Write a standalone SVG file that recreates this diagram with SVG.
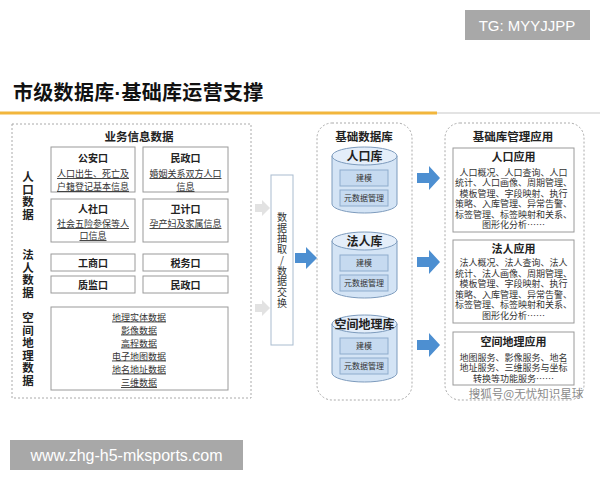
<svg xmlns="http://www.w3.org/2000/svg" width="600" height="480" viewBox="0 0 600 480">
<defs>
<style>
text{font-family:"Noto Sans CJK SC","Liberation Sans",sans-serif;fill:#222;text-anchor:middle}
.t{font-size:10px;font-weight:bold}
.b{font-size:9px;fill:#333;text-decoration:underline}
.v{font-size:11.5px;font-weight:bold;writing-mode:tb;text-anchor:start;letter-spacing:1px}
.box{fill:#fff;stroke:#9a9a9a;stroke-width:1}
.dash{fill:none;stroke:#aaa;stroke-width:1;stroke-dasharray:2,2}
.cyl{fill:#d4e4f5;stroke:#7d9bbd;stroke-width:1}
.cyltop{fill:#e4eefa;stroke:#7d9bbd;stroke-width:1}
.in{fill:#c6daf0;stroke:#8eaccd;stroke-width:1}
.it{font-size:8px;fill:#333}
.ct{font-size:12px;font-weight:bold}
.ab{font-size:9px;fill:#333}
.blue{fill:#4d8fd1}
.grey{fill:#e2e2e2}
</style>
</defs>
<rect width="600" height="480" fill="#fff"/>
<!-- header -->
<rect x="465" y="10" width="125" height="30" fill="#a8a8a8"/>
<text x="527" y="31" style="font-family:'Liberation Sans',sans-serif;font-size:15px;fill:#fff">TG: MYYJJPP</text>
<text x="13" y="100" style="font-size:20px;font-weight:bold;text-anchor:start;fill:#111;letter-spacing:0.3px">市级数据库<tspan style="font-family:'Liberation Sans',sans-serif">·</tspan>基础库运营支撑</text>
<rect x="0" y="111.5" width="437" height="3" fill="#f2b63c"/>
<rect x="437" y="112" width="163" height="2" fill="#e3e3e3"/>

<!-- left panel -->
<g id="business">
<rect class="dash" x="12" y="124" width="239" height="274"/>
<text x="139" y="141" style="font-size:11.5px;font-weight:bold">业务信息数据</text>
<text class="v" x="28" y="171">人口数据</text>
<text class="v" x="28" y="249">法人数据</text>
<text class="v" x="28" y="312">空间地理数据</text>
</g>
<g id="gongan">
<rect class="box" x="51" y="147" width="84" height="45"/>
<text class="t" x="93" y="162">公安口</text>
<text class="b"><tspan x="93" y="177">人口出生、死亡及</tspan><tspan x="93" y="190">户籍登记基本信息</tspan></text>
</g>
<g id="minzheng1">
<rect class="box" x="143" y="147" width="85" height="45"/>
<text class="t" x="185.5" y="162">民政口</text>
<text class="b"><tspan x="185.5" y="177">婚姻关系双方人口</tspan><tspan x="185.5" y="190">信息</tspan></text>
</g>
<g id="renshe">
<rect class="box" x="51" y="199" width="84" height="43"/>
<text class="t" x="93" y="213">人社口</text>
<text class="b"><tspan x="93" y="227">社会五险参保等人</tspan><tspan x="93" y="239">口信息</tspan></text>
</g>
<g id="weiji">
<rect class="box" x="143" y="199" width="85" height="43"/>
<text class="t" x="185.5" y="213">卫计口</text>
<text class="b" x="185.5" y="227">孕产妇及家属信息</text>
</g>
<g id="gongshang">
<rect class="box" x="51" y="254" width="84" height="17"/>
<text class="t" x="93" y="266.5">工商口</text>
</g>
<g id="shuiwu">
<rect class="box" x="143" y="254" width="85" height="17"/>
<text class="t" x="185.5" y="266.5">税务口</text>
</g>
<g id="zhijian">
<rect class="box" x="51" y="276" width="84" height="17"/>
<text class="t" x="93" y="288.5">质监口</text>
</g>
<g id="minzheng2">
<rect class="box" x="143" y="276" width="85" height="17"/>
<text class="t" x="185.5" y="288.5">民政口</text>
</g>
<g id="spatial">
<rect class="box" x="51" y="307" width="177" height="83"/>
<text class="b"><tspan x="139" y="320.5">地理实体数据</tspan><tspan x="139" y="333.5">影像数据</tspan><tspan x="139" y="346.5">高程数据</tspan><tspan x="139" y="359.5">电子地图数据</tspan><tspan x="139" y="372.5">地名地址数据</tspan><tspan x="139" y="386">三维数据</tspan></text>
</g>

<!-- exchange -->
<g id="exchange">
<rect x="271" y="175" width="22" height="170" fill="#fff" stroke="#a9bccf"/>
<text x="282" y="212" style="font-size:10px;fill:#333;writing-mode:tb;text-anchor:start;letter-spacing:0.75px;text-orientation:upright">数据抽取/数据交换</text>
</g>

<!-- base db -->
<g id="basedb">
<rect class="dash" x="317" y="123" width="95" height="277" rx="15"/>
<text x="364" y="141" style="font-size:11.5px;font-weight:bold">基础数据库</text>
</g>
<g id="db-people">
<path class="cyl" d="M332,156 L332,204 A32.5,9 0 0 0 397,204 L397,156 Z"/>
<ellipse class="cyltop" cx="364.5" cy="156" rx="32.5" ry="9"/>
<text class="ct" x="364.5" y="161">人口库</text>
<rect class="in" x="340" y="170" width="48" height="16"/>
<text class="it" x="364" y="181">建模</text>
<rect class="in" x="340" y="190" width="48" height="16"/>
<text class="it" x="364" y="201">元数据管理</text>
</g>
<g id="db-legal">
<path class="cyl" d="M332,241 L332,289 A32.5,9 0 0 0 397,289 L397,241 Z"/>
<ellipse class="cyltop" cx="364.5" cy="241" rx="32.5" ry="9"/>
<text class="ct" x="364.5" y="246">法人库</text>
<rect class="in" x="340" y="255" width="48" height="16"/>
<text class="it" x="364" y="266">建模</text>
<rect class="in" x="340" y="275" width="48" height="16"/>
<text class="it" x="364" y="286">元数据管理</text>
</g>
<g id="db-geo">
<path class="cyl" d="M332,324 L332,373 A32.5,9 0 0 0 397,373 L397,324 Z"/>
<ellipse class="cyltop" cx="364.5" cy="324" rx="32.5" ry="9"/>
<text class="ct" x="364.5" y="329">空间地理库</text>
<rect class="in" x="340" y="338" width="48" height="16"/>
<text class="it" x="364" y="349">建模</text>
<rect class="in" x="340" y="358" width="48" height="16"/>
<text class="it" x="364" y="369">元数据管理</text>
</g>

<!-- apps -->
<g id="apps">
<rect class="dash" x="445" y="123" width="139" height="277" rx="15"/>
<text x="513" y="141" style="font-size:11.5px;font-weight:bold">基础库管理应用</text>
</g>
<g id="app-people">
<rect class="box" x="453" y="148" width="121" height="84"/>
<text x="513.5" y="161" style="font-size:11px;font-weight:bold">人口应用</text>
<text class="ab"><tspan x="513.5" y="175.5">人口概况、人口查询、人口</tspan><tspan x="513.5" y="186">统计、人口画像、周期管理、</tspan><tspan x="513.5" y="196.5">模板管理、字段映射、执行</tspan><tspan x="513.5" y="207">策略、入库管理、异常告警、</tspan><tspan x="513.5" y="217.5">标签管理、标签映射和关系、</tspan><tspan x="513.5" y="228">图形化分析……</tspan></text>
</g>
<g id="app-legal">
<rect class="box" x="453" y="240" width="121" height="83"/>
<text x="513.5" y="252.5" style="font-size:11px;font-weight:bold">法人应用</text>
<text class="ab"><tspan x="513.5" y="266">法人概况、法人查询、法人</tspan><tspan x="513.5" y="276.5">统计、法人画像、周期管理、</tspan><tspan x="513.5" y="287">模板管理、字段映射、执行</tspan><tspan x="513.5" y="297.5">策略、入库管理、异常告警、</tspan><tspan x="513.5" y="308">标签管理、标签映射和关系、</tspan><tspan x="513.5" y="318.5">图形化分析……</tspan></text>
</g>
<g id="app-geo">
<rect class="box" x="453" y="332" width="121" height="53"/>
<text x="513.5" y="346" style="font-size:11px;font-weight:bold">空间地理应用</text>
<text class="ab"><tspan x="513.5" y="360.5">地图服务、影像服务、地名</tspan><tspan x="513.5" y="371">地址服务、三维服务与坐标</tspan><tspan x="513.5" y="381.5">转换等功能服务……</tspan></text>
</g>

<!-- connectors -->
<g id="connectors">
<path class="grey" d="M255,204 H262 V200 L270,208 L262,216 V212 H255 Z"/>
<path class="grey" d="M255,304 H262 V300 L270,308 L262,316 V312 H255 Z"/>
<path class="blue" d="M295,253 H306 V247 L317,258 L306,269 V263 H295 Z"/>
<path class="blue" d="M417,173 H429 V166 L440,178 L429,190 V183 H417 Z"/>
<path class="blue" d="M417,257 H429 V250 L440,262 L429,274 V267 H417 Z"/>
<path class="blue" d="M417,340 H429 V333 L440,345 L429,357 V350 H417 Z"/>
</g>

<text x="526" y="398" style="font-size:11.5px;fill:#8a8a8a">搜狐号@无忧知识星球</text>
<rect x="10" y="440" width="233" height="30" fill="#a8a8a8"/>
<text x="126.5" y="461" style="font-family:'Liberation Sans',sans-serif;font-size:16px;fill:#fff">www.zhg-h5-mksports.com</text>
</svg>
